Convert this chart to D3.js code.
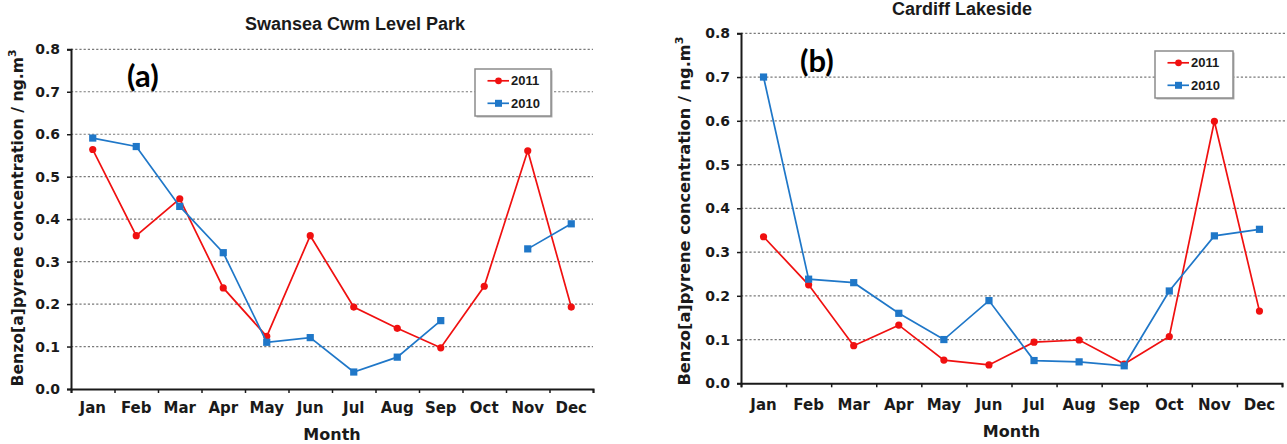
<!DOCTYPE html>
<html>
<head>
<meta charset="utf-8">
<script src="https://cdn.jsdelivr.net/npm/d3@7"></script>
<style>
  body { margin: 0; background: #fff; }
  svg { display: block; }
</style>
</head>
<body>
<svg id="chart" width="1287" height="444"></svg>
<script>
// Monthly benzo[a]pyrene concentrations (ng/m3) at two Welsh sites
const months = ["Jan", "Feb", "Mar", "Apr", "May", "Jun", "Jul", "Aug", "Sep", "Oct", "Nov", "Dec"];
const yTicks = [0.0, 0.1, 0.2, 0.3, 0.4, 0.5, 0.6, 0.7, 0.8];
const seriesNames = ["2011", "2010"];

const swansea2011 = [0.564, 0.361, 0.448, 0.238, 0.124, 0.361, 0.193, 0.143, 0.097, 0.242, 0.561, 0.193];
const swansea2010 = [0.591, 0.571, 0.430, 0.321, 0.110, 0.121, 0.040, 0.075, 0.161, null, 0.330, 0.389];

const cardiff2011 = [0.335, 0.225, 0.086, 0.133, 0.053, 0.042, 0.094, 0.099, 0.044, 0.107, 0.599, 0.165];
const cardiff2010 = [0.700, 0.238, 0.230, 0.160, 0.100, 0.189, 0.052, 0.049, 0.040, 0.211, 0.337, 0.352];

const RED = "#f01010";
const BLUE = "#1f77c8";
const INK = "#1a1a1a";

const svg = d3.select("#chart");

const panels = [
  {
    title: "Swansea Cwm Level Park", tag: "(a)",
    data: [swansea2011, swansea2010],
    left: 71, right: 593, top: 49.3, bottom: 389, gridRight: 593,
    titleX: 355, titleY: 30,
    tagX: 127, tagY: 87,
    yTitleX: 23, yTitleY: 218, yTitleLen: 337,
    monthY: 413, xTitleY: 440,
    legend: { x: 475, y: 69, w: 76, h: 47 }
  },
  {
    title: "Cardiff Lakeside", tag: "(b)",
    data: [cardiff2011, cardiff2010],
    left: 741, right: 1282, top: 33.3, bottom: 383.3, gridRight: 1287,
    titleX: 962, titleY: 15,
    tagX: 800, tagY: 72,
    yTitleX: 690, yTitleY: 211, yTitleLen: 349,
    monthY: 410, xTitleY: 437,
    legend: { x: 1155, y: 51, w: 78, h: 47 }
  }
];

function drawPanel(p) {
  const g = svg.append("g");

  const x = d3.scaleBand().domain(months).range([p.left, p.right]);
  const xEdge = d3.scaleLinear().domain([0, months.length]).range([p.left, p.right]);
  const y = d3.scaleLinear().domain([0, 0.8]).range([p.bottom, p.top]);
  const cx = m => x(m) + x.bandwidth() / 2;

  // dotted horizontal gridlines
  g.append("g").selectAll("line")
    .data(yTicks.filter(v => v > 0))
    .join("line")
    .attr("x1", p.left).attr("x2", p.gridRight)
    .attr("y1", d => y(d)).attr("y2", d => y(d))
    .attr("stroke", "#7a7a7a")
    .attr("stroke-width", 1.2)
    .attr("stroke-dasharray", "2.2,2");

  // y axis
  const yAxis = g.append("g")
    .attr("transform", `translate(${p.left},0)`)
    .call(d3.axisLeft(y).tickValues(yTicks).tickFormat(d3.format(".1f")).tickSize(4).tickPadding(7));
  yAxis.select(".domain").attr("stroke", INK).attr("stroke-width", 2);
  yAxis.selectAll(".tick line").attr("stroke", INK).attr("stroke-width", 1.5);
  yAxis.selectAll(".tick text")
    .attr("fill", INK)
    .style("font-family", "'DejaVu Sans', sans-serif")
    .style("font-weight", "bold")
    .style("font-size", "14px");

  // x axis: tick marks on month boundaries, labels centred in each month
  const xTicks = g.append("g")
    .attr("transform", `translate(0,${p.bottom})`)
    .call(d3.axisBottom(xEdge).tickValues(d3.range(months.length + 1)).tickFormat("").tickSize(4));
  xTicks.select(".domain").attr("stroke", INK).attr("stroke-width", 2);
  xTicks.selectAll(".tick line").attr("stroke", INK).attr("stroke-width", 1.5);

  const xLabels = g.append("g")
    .attr("transform", `translate(0,${p.bottom})`)
    .call(d3.axisBottom(x).tickSize(0).tickPadding(0));
  xLabels.select(".domain").remove();
  xLabels.selectAll(".tick text")
    .attr("y", p.monthY - p.bottom)
    .attr("dy", null)
    .attr("fill", INK)
    .style("font-family", "'DejaVu Sans', sans-serif")
    .style("font-weight", "bold")
    .style("font-size", "15px");

  // axis titles
  g.append("text")
    .attr("x", (p.left + p.right) / 2).attr("y", p.xTitleY)
    .attr("text-anchor", "middle")
    .attr("fill", INK)
    .style("font-family", "'DejaVu Sans', sans-serif")
    .style("font-weight", "bold")
    .style("font-size", "16px")
    .text("Month");

  const yt = g.append("text")
    .attr("transform", `translate(${p.yTitleX},${p.yTitleY}) rotate(-90)`)
    .attr("text-anchor", "middle")
    .attr("fill", INK)
    .attr("textLength", p.yTitleLen)
    .attr("lengthAdjust", "spacingAndGlyphs")
    .style("font-family", "'DejaVu Sans', sans-serif")
    .style("font-weight", "bold")
    .style("font-size", "16px");
  yt.append("tspan").text("Benzo[a]pyrene concentration / ng.m");
  yt.append("tspan").attr("dy", -7).style("font-size", "11px").text("3");

  // chart title and panel tag
  g.append("text")
    .attr("x", p.titleX).attr("y", p.titleY)
    .attr("text-anchor", "middle")
    .attr("fill", INK)
    .style("font-family", "'Liberation Sans', Arial, sans-serif")
    .style("font-weight", "bold")
    .style("font-size", "18px")
    .text(p.title);

  g.append("text")
    .attr("x", p.tagX).attr("y", p.tagY)
    .attr("fill", "#000")
    .style("font-family", "Lato, sans-serif")
    .style("font-weight", "bold")
    .style("font-size", "31px")
    .text(p.tag);

  // data series
  const line = d3.line()
    .defined(d => d.v !== null)
    .x(d => cx(d.m))
    .y(d => y(d.v));

  const styles = [
    { color: RED, marker: "circle" },
    { color: BLUE, marker: "square" }
  ];

  p.data.forEach((vals, i) => {
    const pts = months.map((m, j) => ({ m, v: vals[j] }));
    const st = styles[i];
    g.append("path")
      .datum(pts)
      .attr("fill", "none")
      .attr("stroke", st.color)
      .attr("stroke-width", 1.7)
      .attr("d", line);
    const shown = pts.filter(d => d.v !== null);
    if (st.marker === "circle") {
      g.append("g").selectAll("circle").data(shown).join("circle")
        .attr("cx", d => cx(d.m)).attr("cy", d => y(d.v))
        .attr("r", 3.6).attr("fill", st.color);
    } else {
      g.append("g").selectAll("rect").data(shown).join("rect")
        .attr("x", d => cx(d.m) - 3.6).attr("y", d => y(d.v) - 3.6)
        .attr("width", 7.2).attr("height", 7.2).attr("fill", st.color);
    }
  });

  // legend
  const L = p.legend;
  const lg = g.append("g").attr("transform", `translate(${L.x},${L.y})`);
  lg.append("rect")
    .attr("x", 1.5).attr("y", 1.5).attr("width", L.w).attr("height", L.h)
    .attr("fill", "#b0b0b0");
  lg.append("rect")
    .attr("width", L.w).attr("height", L.h)
    .attr("fill", "#fff").attr("stroke", "#8c8c8c").attr("stroke-width", 1.5);
  seriesNames.forEach((name, i) => {
    const st = styles[i];
    const ry = 11.8 + i * 22.5;
    lg.append("line")
      .attr("x1", 12.5).attr("x2", 34).attr("y1", ry).attr("y2", ry)
      .attr("stroke", st.color).attr("stroke-width", 1.7);
    if (st.marker === "circle") {
      lg.append("circle").attr("cx", 23.5).attr("cy", ry).attr("r", 3.4).attr("fill", st.color);
    } else {
      lg.append("rect").attr("x", 20).attr("y", ry - 3.5).attr("width", 7).attr("height", 7).attr("fill", st.color);
    }
    lg.append("text")
      .attr("x", 36).attr("y", ry + 4.5)
      .attr("fill", INK)
      .style("font-family", "'Liberation Sans', Arial, sans-serif")
      .style("font-weight", "bold")
      .style("font-size", "13px")
      .text(name);
  });
}

panels.forEach(drawPanel);
</script>
</body>
</html>
